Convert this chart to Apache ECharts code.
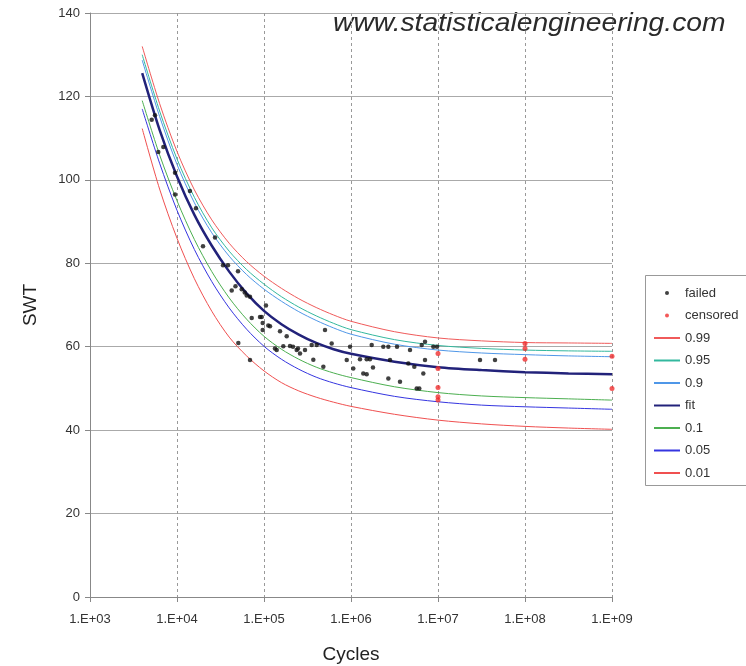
<!DOCTYPE html>
<html>
<head>
<meta charset="utf-8">
<script src="https://cdn.jsdelivr.net/npm/echarts@6/dist/echarts.min.js"></script>
<style>
html, body { margin: 0; padding: 0; background: #fff; }
#main { width: 746px; height: 666px; }
</style>
</head>
<body>
<div id="main"></div>
<script>
var curveCycles = [3981, 6310, 10000, 15850, 25120, 39810, 63100, 100000, 158500, 251200, 398100, 631000, 1e6,
	3.162e6, 1e7, 3.162e7, 1e8, 3.162e8, 1e9];
var q99 = [132, 118.3, 106.8, 97.6, 90.4, 84.8, 80.4, 76.9, 74.0, 71.5, 69.4, 67.6, 66.1, 63.6, 62.1, 61.4, 61.0, 60.9, 60.8];
var q95 = [130, 116.5, 105, 95.8, 88.5, 82.9, 78.5, 75.0, 72.0, 69.5, 67.4, 65.6, 64.1, 61.7, 60.3, 59.6, 59.2, 59.0, 58.9];
var q90 = [128.7, 115.2, 103.7, 94.5, 87.3, 81.7, 77.3, 73.8, 70.9, 68.4, 66.3, 64.5, 63.0, 60.6, 59.2, 58.5, 58.1, 57.8, 57.6];
var fitLine = [125.6, 112.0, 100.8, 91.6, 84.2, 78.0, 72.8, 68.6, 65.4, 62.9, 60.9, 59.4, 58.3, 56.4, 55.1, 54.4, 53.9, 53.6, 53.4];
var q10 = [119, 106, 95, 85.7, 78.0, 71.7, 66.6, 62.5, 59.4, 57.0, 55.1, 53.7, 52.6, 50.4, 49.0, 48.2, 47.8, 47.5, 47.2];
var q05 = [117, 104, 92.7, 83.3, 75.6, 69.3, 64.2, 60.1, 57.0, 54.6, 52.7, 51.3, 50.2, 48.1, 46.8, 46.0, 45.6, 45.3, 45.0];
var q01 = [112.3, 97.8, 86.0, 76.3, 68.5, 62.3, 57.8, 54.2, 51.4, 49.4, 47.9, 46.7, 45.7, 43.8, 42.4, 41.5, 40.9, 40.5, 40.2];

// failed specimens
var failedCycles = [5117, 5584, 6095, 6966, 9484, 9484, 14090, 16520, 19900, 27350, 33800, 38550, 42550, 47000, 50250, 50700,
	55450, 60000, 63250, 69050, 69050, 72250, 89950, 94150, 96600, 96600, 105400, 112000, 117200, 133700, 139900, 152800,
	166700, 182300, 199100, 215400, 237600, 245900, 259400, 295900, 353300, 368900, 403600, 481000, 502600, 599800,
	893100, 975000, 1062000, 1268000, 1384000, 1514000, 1514000, 1652000, 1729000, 1789000, 2351000, 2686000, 2686000,
	2808000, 3380000, 3658000, 4557000, 4766000, 5342000, 5690000, 6095000, 6500000, 6780000, 7093000, 7093000,
	8836000, 9751000, 30400000, 45200000];
var failedSwt = [114.4, 115.5, 106.7, 107.9, 101.7, 96.5, 97.3, 93.2, 84.1, 86.2, 79.5, 79.5, 73.5, 74.5, 78.1, 60.9,
	73.8, 73, 72.3, 72, 56.8, 66.9, 67.1, 67.1, 65.7, 64, 69.9, 65.1, 64.9, 59.6, 59.2, 63.7,
	60.1, 62.5, 60.2, 60, 59.2, 59.6, 58.4, 59.2, 60.4, 56.9, 60.4, 55.2, 64, 60.8,
	56.8, 60, 54.8, 57, 53.6, 57, 53.4, 57, 60.4, 55, 60, 52.4, 60,
	56.8, 60, 51.6, 56, 59.2, 55.2, 50, 50, 60.4, 53.6, 61.2, 56.8,
	60, 60, 56.8, 56.8];

// censored (run-outs)
var censoredCycles = [1e7, 1e7, 1e7, 1e7, 1e7, 1e8, 1e8, 1e8, 1e9, 1e9];
var censoredSwt = [58.4, 54.8, 50.2, 48, 47.2, 60.8, 59.6, 57, 57.7, 50];

function pairs(xs, ys) {
	var out = [];
	for (var i = 0; i < xs.length; i++) {
		out.push([xs[i], ys[i]]);
	}
	return out;
}

function lineSeries(name, values, color, width) {
	return {
		name : name,
		type : 'line',
		data : pairs(curveCycles, values),
		smooth : 0.3,
		symbol : 'none',
		lineStyle : { color : color, width : width },
		itemStyle : { color : color },
		z : 3
	};
}

// legend entry for a line: hide the little dot echarts puts in the middle
function lineLegend(name) {
	return { name : name, itemStyle : { opacity : 0 } };
}

var chart = echarts.init(document.getElementById('main'));
var option = {
	backgroundColor : '#fff',
	animation : false,
	textStyle : { fontFamily : 'Liberation Sans, Arial, sans-serif' },
	grid : { left : 90, right : 134, top : 13, bottom : 69, outerBoundsMode : 'none' },
	legend : {
		orient : 'vertical',
		left : 648,
		top : 281,
		itemWidth : 26,
		itemHeight : 4,
		itemGap : 8.5,
		textStyle : { color : '#333', fontSize : 13, lineHeight : 14 },
		data : ['failed', 'censored', lineLegend('0.99'), lineLegend('0.95'), lineLegend('0.9'), lineLegend('fit'),
			lineLegend('0.1'), lineLegend('0.05'), lineLegend('0.01')]
	},
	graphic : [
		{
			type : 'rect',
			left : 643, top : 273,
			shape : { width : 102, height : 210 },
			style : { fill : 'none', stroke : '#999', lineWidth : 1 },
			silent : true
		}, {
			type : 'text',
			left : 333, top : 12,
			scaleX : 1.13,
			style : {
				text : 'www.statisticalengineering.com',
				font : 'italic 25px "Liberation Sans", Arial, sans-serif',
				fill : '#2a2a2a'
			},
			silent : true
		}
	],
	xAxis : {
		type : 'log',
		logBase : 10,
		min : 1000,
		max : 1e9,
		interval : 1,
		name : 'Cycles',
		nameLocation : 'middle',
		nameGap : 48,
		nameTextStyle : { fontSize : 19, color : '#222' },
		axisLine : { lineStyle : { color : '#888', width : 1 } },
		axisTick : { show : true, length : 5, lineStyle : { color : '#888' } },
		minorTick : { show : false },
		axisLabel : {
			margin : 16,
			fontSize : 13,
			color : '#333',
			formatter : function(v) {
				var e = Math.round(Math.log(v) / Math.LN10);
				return '1.E+' + (e < 10 ? '0' : '') + e;
			}
		},
		splitLine : { show : true, lineStyle : { color : '#999', type : [3, 3], width : 1 } }
	},
	yAxis : {
		type : 'value',
		min : 0,
		max : 140,
		interval : 20,
		name : 'SWT',
		nameLocation : 'middle',
		nameGap : 50,
		nameTextStyle : { fontSize : 19, color : '#222' },
		axisLine : { show : true, lineStyle : { color : '#888', width : 1 } },
		axisTick : { show : true, length : 5, lineStyle : { color : '#888' } },
		axisLabel : { margin : 10, fontSize : 13, color : '#333' },
		splitLine : { show : true, lineStyle : { color : '#aaa', width : 1 } }
	},
	series : [
		{
			name : 'failed',
			type : 'scatter',
			data : pairs(failedCycles, failedSwt),
			symbol : 'circle',
			symbolSize : 4.5,
			itemStyle : { color : '#111' },
			z : 4
		}, {
			name : 'censored',
			type : 'scatter',
			data : pairs(censoredCycles, censoredSwt),
			symbol : 'circle',
			symbolSize : 5,
			itemStyle : { color : '#f03030' },
			z : 4
		},
		lineSeries('0.99', q99, '#f05a5a', 1),
		lineSeries('0.95', q95, '#33b89e', 1),
		lineSeries('0.9', q90, '#4f97e8', 1),
		lineSeries('fit', fitLine, '#22227a', 2.5),
		lineSeries('0.1', q10, '#4caf50', 1),
		lineSeries('0.05', q05, '#3535e0', 1),
		lineSeries('0.01', q01, '#f05050', 1)
	]
};
chart.setOption(option);
</script>
</body>
</html>
